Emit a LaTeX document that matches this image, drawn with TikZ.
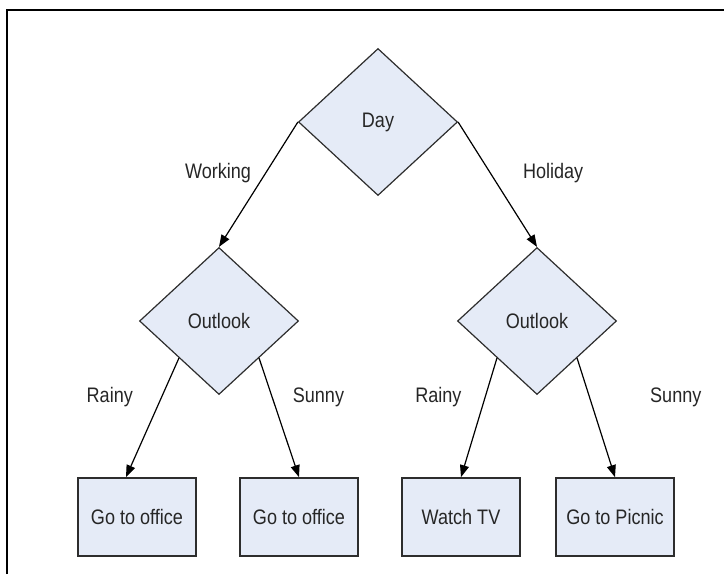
\documentclass[tikz,border=0pt]{standalone}
\usepackage{fontspec}
\setmainfont{Liberation Sans}[FakeStretch=0.86]
\usetikzlibrary{arrows.meta,positioning,shapes.geometric}
\definecolor{nodefill}{RGB}{229,235,247}
\definecolor{linegray}{RGB}{45,45,45}
\tikzset{
    test/.style={diamond,draw=linegray,fill=nodefill,line width=1.2pt,minimum width=159pt,minimum height=147pt,inner sep=0pt},
    leaf/.style={rectangle,draw=linegray,fill=nodefill,line width=1.7pt,minimum width=118pt,minimum height=78pt},
    pre/.style={-{Triangle[length=12pt,width=9pt]},line width=1.2pt},
    lab/.style={inner sep=0pt}
}

\begin{document}
\begin{tikzpicture}[x=1pt,y=-1pt,on grid,font=\fontsize{21}{25}\selectfont,text=black!85]
    \useasboundingbox (0,0) rectangle (724,574);
    \draw[line width=1.4pt] (7,574) -- (7,10) -- (724,10);

    % decision nodes
    \node[test] (day)     at (378,122)                                {Day};
    \node[test] (out work) [below left=199pt and 159pt of day]        {Outlook};
    \node[test] (out hol)  [below right=199pt and 159pt of day]       {Outlook};

    % leaves
    \node[leaf] (office 1) [below left=196pt and 82pt of out work]    {Go to office};
    \node[leaf] (office 2) [below right=196pt and 80pt of out work]   {Go to office};
    \node[leaf] (tv)       [below left=196pt and 76pt of out hol]     {Watch TV};
    \node[leaf] (picnic)   [below right=196pt and 78pt of out hol]    {Go to Picnic};

    \draw[pre] (day.west) -- (out work.north)
        node[lab,pos=0.41,left=14pt] {Working};
    \draw[pre] (day.east) -- (out hol.north)
        node[lab,pos=0.41,right=32pt] {Holiday};

    \draw[pre] (out work.south west) -- ([xshift=-11pt]office 1.north)
        node[lab,pos=0.33,left=28pt] {Rainy};
    \draw[pre] (out work.south east) -- (office 2.north)
        node[lab,pos=0.33,right=20pt] {Sunny};
    \draw[pre] (out hol.south west) -- (tv.north)
        node[lab,pos=0.33,left=23pt] {Rainy};
    \draw[pre] (out hol.south east) -- (picnic.north)
        node[lab,pos=0.33,right=60pt] {Sunny};
\end{tikzpicture}
\end{document}
